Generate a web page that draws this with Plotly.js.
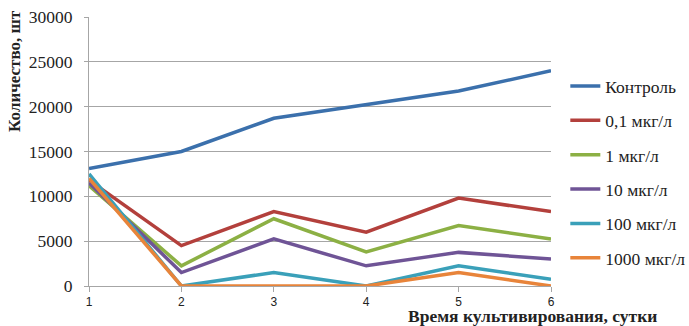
<!DOCTYPE html>
<html><head><meta charset="utf-8">
<script src="https://cdn.plot.ly/plotly-3.0.1.min.js"></script>
<style>body{margin:0;background:#fff}#chart{width:689px;height:326px}</style>
</head><body><div id="chart"></div>
<script>
var days = [1, 2, 3, 4, 5, 6];
var seriesNames = ["Контроль", "0,1 мкг/л", "1 мкг/л", "10 мкг/л", "100 мкг/л", "1000 мкг/л"];
var control = [13100, 15000, 18700, 20200, 21750, 24000];
var c01 = [11800, 4500, 8300, 6000, 9800, 8300];
var c1 = [11200, 2250, 7500, 3800, 6750, 5250];
var c10 = [11500, 1500, 5250, 2250, 3750, 3000];
var c100 = [12500, 0, 1500, 0, 2250, 750];
var c1000 = [12000, 0, 0, 0, 1500, 0];
var yTicks = [0, 5000, 10000, 15000, 20000, 25000, 30000];
var xTitle = "Время культивирования, сутки";
var yTitle = "Количество, шт";

var colors = ["#3b70ac", "#b3403c", "#8cb044", "#6f5496", "#3aa0b9", "#e8843a"];
var allSeries = [control, c01, c1, c10, c100, c1000];
var serif = "Times New Roman, serif";

var traces = allSeries.map(function (vals, i) {
  return {
    x: days, y: vals, name: seriesNames[i], type: "scatter", mode: "lines",
    line: {color: colors[i], width: 3.5}, legendgroup: "g" + i
  };
});

var layout = {
  width: 689, height: 326,
  margin: {l: 89, r: 138, t: 17, b: 40, autoexpand: false},
  paper_bgcolor: "#fff", plot_bgcolor: "#fff",
  showlegend: true,
  legend: {x: 1.031, xanchor: "left", y: 0.81, yanchor: "top",
    font: {family: serif, size: 17.5, color: "#222"}, tracegroupgap: 8.6,
    itemwidth: 30, bgcolor: "rgba(0,0,0,0)"},
  xaxis: {range: [1, 6], tickvals: days, ticktext: days.map(String),
    showgrid: false, showline: true, linecolor: "#a6a6a6", linewidth: 1,
    ticks: "outside", ticklen: 5, tickcolor: "#a6a6a6",
    tickfont: {family: "Arial, sans-serif", size: 12, color: "#222"},
    zeroline: false, fixedrange: true, automargin: false},
  yaxis: {range: [0, 30000], tickvals: yTicks, ticktext: yTicks.map(String),
    showgrid: true, gridcolor: "#a6a6a6", gridwidth: 1,
    showline: true, linecolor: "#a6a6a6", linewidth: 1,
    ticks: "outside", ticklen: 4, tickcolor: "#a6a6a6", ticklabelstandoff: 8,
    tickfont: {family: serif, size: 17.5, color: "#222"},
    zeroline: false, fixedrange: true, automargin: false},
  annotations: [
    {text: "<b>" + xTitle + "</b>", xref: "paper", yref: "paper",
     x: 1.234, y: 0, yshift: -30, xanchor: "right", yanchor: "middle", showarrow: false,
     font: {family: serif, size: 17.5, color: "#222"}},
    {text: "<b>" + yTitle + "</b>", xref: "paper", yref: "paper",
     x: -0.16, y: 0.8, xanchor: "center", yanchor: "middle", textangle: -90, showarrow: false,
     font: {family: serif, size: 17, color: "#222"}}
  ]
};
Plotly.newPlot("chart", traces, layout, {displayModeBar: false, staticPlot: true});
</script></body></html>
